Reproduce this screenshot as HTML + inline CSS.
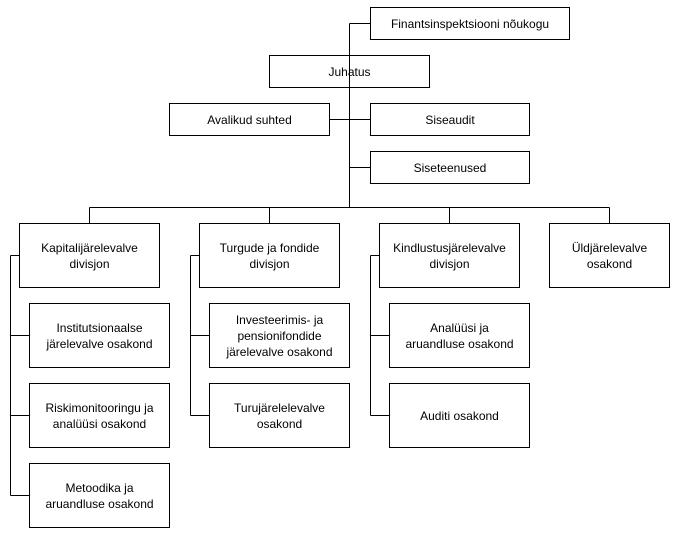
<!DOCTYPE html>
<html><head><meta charset="utf-8"><style>
html,body{margin:0;padding:0;background:#fff;}
svg{display:block;}
text{font-family:"Liberation Sans",Arial,sans-serif;font-size:12px;fill:#000;text-anchor:middle;}
</style></head><body>
<svg width="679" height="535" viewBox="0 0 679 535" xmlns="http://www.w3.org/2000/svg">
<g fill="none" stroke="#000" stroke-width="1" shape-rendering="crispEdges">
<!-- lines -->
<path d="M349.5 23.5H370 M349.5 23.5V207.5 M329 119.5H370 M349.5 167.5H370 M89.5 207.5H609.5 M89.5 207.5V223 M269.5 207.5V223 M449.5 207.5V223 M609.5 207.5V223"/>
<path d="M10.5 255.5H19 M10.5 255.5V495.5 M10.5 335.5H30 M10.5 415.5H30 M10.5 495.5H30"/>
<path d="M190.5 255.5H199 M190.5 255.5V415.5 M190.5 335.5H209 M190.5 415.5H209"/>
<path d="M370.5 255.5H379 M370.5 255.5V415.5 M370.5 335.5H389 M370.5 415.5H389"/>
<!-- boxes -->
<rect x="370.5" y="7.5" width="199" height="32"/>
<rect x="269.5" y="55.5" width="160" height="32"/>
<rect x="169.5" y="103.5" width="160" height="32"/>
<rect x="370.5" y="103.5" width="159" height="32"/>
<rect x="370.5" y="151.5" width="159" height="32"/>
<rect x="19.5" y="223.5" width="140" height="64"/>
<rect x="199.5" y="223.5" width="140" height="64"/>
<rect x="379.5" y="223.5" width="140" height="64"/>
<rect x="549.5" y="223.5" width="120" height="64"/>
<rect x="29.5" y="303.5" width="140" height="64"/>
<rect x="29.5" y="383.5" width="140" height="64"/>
<rect x="29.5" y="463.5" width="140" height="64"/>
<rect x="209.5" y="303.5" width="140" height="64"/>
<rect x="209.5" y="383.5" width="140" height="64"/>
<rect x="389.5" y="303.5" width="140" height="64"/>
<rect x="389.5" y="383.5" width="140" height="64"/>
</g>
<text x="470" y="28">Finantsinspektsiooni nõukogu</text>
<text x="349.5" y="76">Juhatus</text>
<text x="249.5" y="124">Avalikud suhted</text>
<text x="450" y="124">Siseaudit</text>
<text x="450" y="172">Siseteenused</text>
<text x="89.5" y="252">Kapitalijärelevalve</text><text x="89.5" y="268">divisjon</text>
<text x="269.5" y="252">Turgude ja fondide</text><text x="269.5" y="268">divisjon</text>
<text x="449.5" y="252">Kindlustusjärelevalve</text><text x="449.5" y="268">divisjon</text>
<text x="609.5" y="252">Üldjärelevalve</text><text x="609.5" y="268">osakond</text>
<text x="99.5" y="332">Institutsionaalse</text><text x="99.5" y="348">järelevalve osakond</text>
<text x="99.5" y="412">Riskimonitooringu ja</text><text x="99.5" y="428">analüüsi osakond</text>
<text x="99.5" y="492">Metoodika ja</text><text x="99.5" y="508">aruandluse osakond</text>
<text x="279.5" y="324">Investeerimis- ja</text><text x="279.5" y="340">pensionifondide</text><text x="279.5" y="356">järelevalve osakond</text>
<text x="279.5" y="412">Turujärelelevalve</text><text x="279.5" y="428">osakond</text>
<text x="459.5" y="332">Analüüsi ja</text><text x="459.5" y="348">aruandluse osakond</text>
<text x="459.5" y="420">Auditi osakond</text>
</svg>
</body></html>
